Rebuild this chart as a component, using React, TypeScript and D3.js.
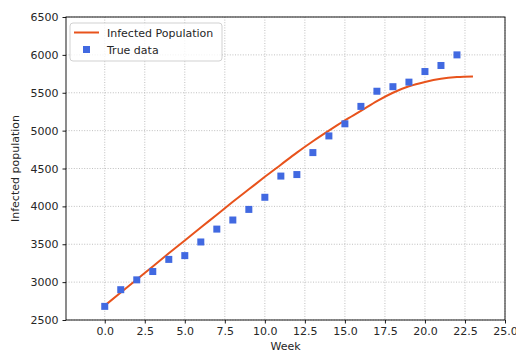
import React, { useRef, useEffect } from 'react';
import * as d3 from 'd3';

// true data (squares), one per week
const weeks = [0, 1, 2, 3, 4, 5, 6, 7, 8, 9, 10, 11, 12, 13, 14, 15, 16, 17, 18, 19, 20, 21, 22];
const trueData = [2680, 2900, 3030, 3140, 3300, 3350, 3530, 3700, 3820, 3960, 4120, 4400, 4420, 4710,
  4930, 5090, 5320, 5520, 5580, 5640, 5780, 5860, 6000];

const modelWeeks = [0, 1, 2, 3, 4, 5, 6, 7, 8, 9, 10, 11, 12, 13, 14, 15, 16, 17, 18, 19, 20, 21, 22, 23];
const modelValues = [2690, 2862, 3035, 3207, 3380, 3550, 3720, 3890, 4060, 4225, 4390, 4550, 4710, 4860,
  5000, 5135, 5260, 5390, 5500, 5585, 5643, 5685, 5707, 5715];

const xTicks = [0, 2.5, 5, 7.5, 10, 12.5, 15, 17.5, 20, 22.5, 25];
const yTicks = [2500, 3000, 3500, 4000, 4500, 5000, 5500, 6000, 6500];

const FONT = 'DejaVu Sans, sans-serif';

const App = () => {
  const svgRef = useRef<SVGSVGElement>(null);

  useEffect(() => {
    document.body.style.margin = '0';
    const svg = d3.select(svgRef.current);
    svg.selectAll('*').remove();

    const W = 516, H = 352;
    const left = 66, right = 505, top = 17, bottom = 320;
    svg.attr('width', W).attr('height', H);

    const x = d3.scaleLinear().domain([-2.42, 25]).range([left, right]);
    const y = d3.scaleLinear().domain([2500, 6500]).range([bottom, top]);

    svg.append('rect').attr('width', W).attr('height', H).attr('fill', '#fff');

    // grid
    const grid = svg.append('g')
      .attr('stroke', '#b0b0b0')
      .attr('stroke-width', 0.8)
      .attr('stroke-dasharray', '1,1.6');
    xTicks.forEach(t => {
      grid.append('line').attr('x1', x(t)).attr('x2', x(t)).attr('y1', top).attr('y2', bottom);
    });
    yTicks.forEach(t => {
      grid.append('line').attr('x1', left).attr('x2', right).attr('y1', y(t)).attr('y2', y(t));
    });

    // model curve
    const line = d3.line<number>()
      .x((_, i) => x(modelWeeks[i]))
      .y(d => y(d))
      .curve(d3.curveMonotoneX);
    svg.append('path')
      .datum(modelValues)
      .attr('fill', 'none')
      .attr('stroke', '#e8531c')
      .attr('stroke-width', 2)
      .attr('d', line);

    // true data squares
    const s = 7;
    svg.selectAll('.pt')
      .data(trueData)
      .join('rect')
      .attr('class', 'pt')
      .attr('x', (_, i) => x(weeks[i]) - s / 2)
      .attr('y', d => y(d) - s / 2)
      .attr('width', s)
      .attr('height', s)
      .attr('fill', '#4169e1');

    // frame
    svg.append('rect')
      .attr('x', left).attr('y', top)
      .attr('width', right - left).attr('height', bottom - top)
      .attr('fill', 'none').attr('stroke', '#000').attr('stroke-width', 0.9);

    // axes ticks and labels
    const xAxis = svg.append('g').attr('transform', `translate(0,${bottom})`)
      .call(d3.axisBottom(x).tickValues(xTicks).tickFormat(d3.format('.1f')).tickSize(3.5).tickPadding(4));
    const yAxis = svg.append('g').attr('transform', `translate(${left},0)`)
      .call(d3.axisLeft(y).tickValues(yTicks).tickFormat(d3.format('d')).tickSize(3.5).tickPadding(4));
    [xAxis, yAxis].forEach(a => {
      a.select('.domain').remove();
      a.selectAll('line').attr('stroke', '#000').attr('stroke-width', 0.9);
      a.selectAll('text').attr('fill', '#262626').style('font-family', FONT).style('font-size', '11px');
    });

    svg.append('text')
      .attr('x', (left + right) / 2).attr('y', 350)
      .attr('text-anchor', 'middle')
      .attr('fill', '#262626')
      .style('font-family', FONT).style('font-size', '11px')
      .text('Week');

    svg.append('text')
      .attr('transform', `translate(19,${(top + bottom) / 2}) rotate(-90)`)
      .attr('text-anchor', 'middle')
      .attr('fill', '#262626')
      .style('font-family', FONT).style('font-size', '11px')
      .text('Infected population');

    // legend
    const lg = svg.append('g').attr('transform', 'translate(70,23)');
    lg.append('rect')
      .attr('width', 152).attr('height', 38).attr('rx', 3)
      .attr('fill', 'rgba(255,255,255,0.8)')
      .attr('stroke', '#cccccc').attr('stroke-width', 0.9);
    lg.append('line')
      .attr('x1', 4).attr('x2', 29).attr('y1', 9.5).attr('y2', 9.5)
      .attr('stroke', '#e8531c').attr('stroke-width', 2);
    lg.append('rect')
      .attr('x', 16.5 - s / 2).attr('y', 26.5 - s / 2).attr('width', s).attr('height', s)
      .attr('fill', '#4169e1');
    lg.append('text').attr('x', 37).attr('y', 13.5)
      .attr('fill', '#262626').style('font-family', FONT).style('font-size', '11px')
      .text('Infected Population');
    lg.append('text').attr('x', 37).attr('y', 30.5)
      .attr('fill', '#262626').style('font-family', FONT).style('font-size', '11px')
      .text('True data');
  }, []);

  return (
    <div style={{ position: 'relative' }}>
      <svg ref={svgRef} style={{ display: 'block' }}></svg>
    </div>
  );
};

export default App;
